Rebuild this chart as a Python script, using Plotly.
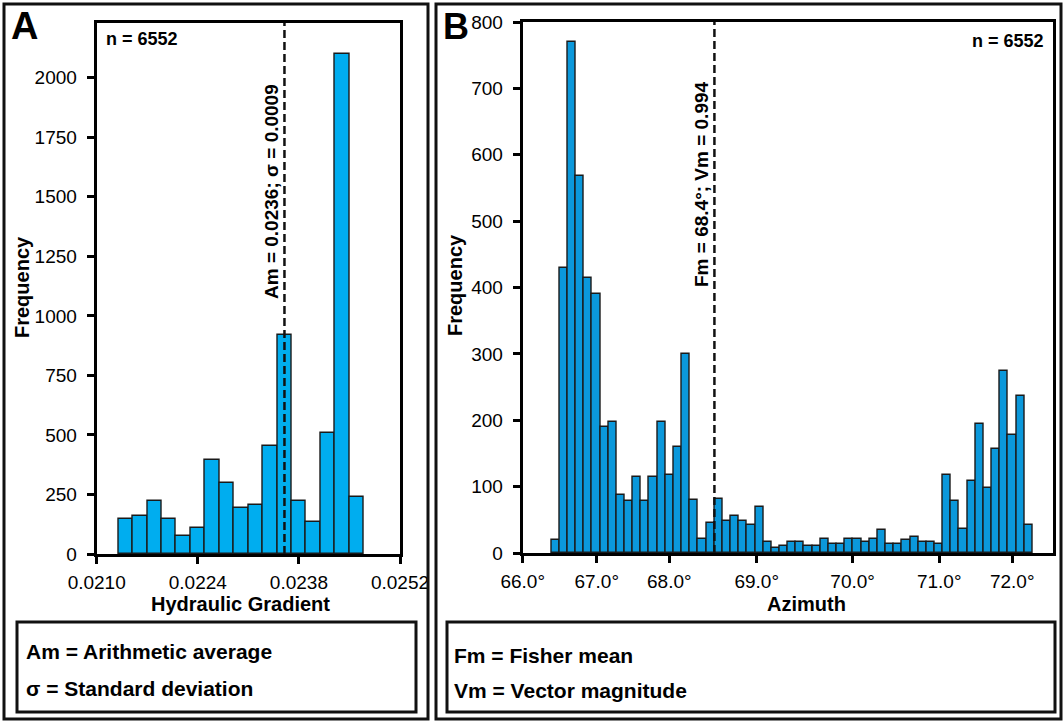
import plotly.graph_objects as go

W, H = 1064, 722

# ---------------- Data ----------------
# Panel A: hydraulic gradient histogram (bin centres, counts)
grad_bins = [0.0214, 0.0216, 0.0218, 0.0220, 0.0222, 0.0224, 0.0226, 0.0228, 0.0230,
             0.0232, 0.0234, 0.0236, 0.0238, 0.0240, 0.0242, 0.0244, 0.0246]
grad_counts = [148, 158, 224, 148, 76, 108, 395, 298, 192, 206, 452, 920, 224, 135, 508, 2100, 238]
grad_bin_width = 0.0002
grad_mean = 0.0236
grad_ticks = [0.0210, 0.0224, 0.0238, 0.0252]
grad_ticktext = ["0.0210", "0.0224", "0.0238", "0.0252"]
grad_yticks = [0, 250, 500, 750, 1000, 1250, 1500, 1750, 2000]

# Panel B: azimuth histogram (bin centres in degrees, counts)
az_bins = [66.4, 66.5, 66.6, 66.7, 66.8, 66.9, 67.0, 67.1, 67.2, 67.3,
           67.4, 67.5, 67.6, 67.7, 67.8, 67.9, 68.0, 68.1, 68.2, 68.3,
           68.4, 68.5, 68.6, 68.7, 68.8, 68.9, 69.0, 69.1, 69.2, 69.3,
           69.4, 69.5, 69.6, 69.7, 69.8, 69.9, 70.0, 70.1, 70.2, 70.3,
           70.4, 70.5, 70.6, 70.7, 70.8, 70.9, 71.0, 71.1, 71.2, 71.3,
           71.4, 71.5, 71.6, 71.7, 71.8, 71.9, 72.0, 72.1, 72.2]
az_counts = [20, 430, 770, 568, 415, 390, 190, 197, 88, 78,
             115, 78, 115, 198, 117, 160, 300, 80, 21, 45,
             82, 48, 55, 48, 42, 70, 17, 8, 11, 17,
             17, 11, 10, 21, 14, 14, 21, 21, 17, 21,
             34, 14, 14, 20, 24, 17, 17, 14, 117, 79,
             36, 109, 194, 98, 157, 274, 178, 237, 42]
az_bin_width = 0.1
az_mean_line = 68.35
# tick labels sit where the reference prints them
az_ticks = [66.0, 66.907, 67.797, 68.868, 70.044, 71.105, 72.0]
az_ticktext = ["66.0°", "67.0°", "68.0°", "69.0°", "70.0°", "71.0°", "72.0°"]
az_yticks = [0, 100, 200, 300, 400, 500, 600, 700, 800]

n_obs = 6552

# ---------------- Helpers ----------------
def X(px):
    return px / W

def Y(py):
    return 1 - py / H

FONT = "Liberation Sans, Arial, Helvetica, sans-serif"

fig = go.Figure()

fig.add_trace(go.Bar(
    x=grad_bins, y=grad_counts, width=grad_bin_width,
    marker=dict(color="#00adef", line=dict(color="#1a1a1a", width=1.4)),
    xaxis="x", yaxis="y", showlegend=False, hoverinfo="x+y"))

fig.add_trace(go.Bar(
    x=az_bins, y=az_counts, width=az_bin_width,
    marker=dict(color="#0b98db", line=dict(color="#1a1a1a", width=1.4)),
    xaxis="x2", yaxis="y2", showlegend=False, hoverinfo="x+y"))

axis_common = dict(
    showline=True, linecolor="black", linewidth=3, mirror=True,
    ticks="outside", ticklen=7, tickwidth=3, tickcolor="black",
    showgrid=False, zeroline=False, automargin=False,
    tickfont=dict(family=FONT, size=19, color="black"),
)

fig.update_layout(
    template="none",
    width=W, height=H,
    margin=dict(l=0, r=0, t=0, b=0, pad=0, autoexpand=False),
    paper_bgcolor="white", plot_bgcolor="white",
    bargap=0,
    xaxis=dict(domain=[X(96.7), X(400)], range=[0.0210, 0.0252],
               tickvals=grad_ticks, ticktext=grad_ticktext, anchor="y",
               ticklabelstandoff=2, **axis_common),
    yaxis=dict(domain=[Y(554), Y(23)], range=[0, 2230], tickvals=grad_yticks,
               anchor="x", ticklabelstandoff=6, **axis_common),
    xaxis2=dict(domain=[X(522.7), X(1053)], range=[66.0, 72.5],
                tickvals=az_ticks, ticktext=az_ticktext, anchor="y2",
                ticklabelstandoff=2, **axis_common),
    yaxis2=dict(domain=[Y(553), Y(22)], range=[0, 800], tickvals=az_yticks,
                anchor="x2", ticklabelstandoff=6, **axis_common),
)

shapes = []
# mean lines
shapes.append(dict(type="line", xref="x", yref="y domain", x0=grad_mean, x1=grad_mean,
                   y0=0, y1=1, line=dict(color="#111111", width=2.5, dash="8px,4px")))
shapes.append(dict(type="line", xref="x2", yref="y2 domain", x0=az_mean_line, x1=az_mean_line,
                   y0=0, y1=1, line=dict(color="#111111", width=2.5, dash="8px,4px")))
# outer panel frames
for x0, x1 in [(4, 428), (436, 1061)]:
    shapes.append(dict(type="rect", xref="paper", yref="paper",
                       x0=X(x0), x1=X(x1), y0=Y(719), y1=Y(4),
                       line=dict(color="#111111", width=3), fillcolor="rgba(0,0,0,0)"))
# legend boxes
for x0, x1 in [(17, 416), (447, 1055)]:
    shapes.append(dict(type="rect", xref="paper", yref="paper",
                       x0=X(x0), x1=X(x1), y0=Y(712), y1=Y(622),
                       line=dict(color="#111111", width=3), fillcolor="rgba(0,0,0,0)"))
fig.update_layout(shapes=shapes)

ann = []
def text(px, py, s, size, xanchor="center", yanchor="middle", angle=0):
    ann.append(dict(x=X(px), y=Y(py), xref="paper", yref="paper", text=s,
                    showarrow=False, xanchor=xanchor, yanchor=yanchor, textangle=angle,
                    font=dict(family=FONT, size=size, color="black")))

# panel letters
text(9, 26, "<b>A</b>", 38, xanchor="left")
text(441, 27, "<b>B</b>", 36, xanchor="left")
# n labels
text(104, 39, f"<b>n = {n_obs}</b>", 18, xanchor="left")
text(1046, 41, f"<b>n = {n_obs}</b>", 18, xanchor="right")
# axis titles
text(22, 287, "<b>Frequency</b>", 20, angle=-90)
text(455, 285, "<b>Frequency</b>", 20, angle=-90)
text(240, 604, "<b>Hydraulic Gradient</b>", 20)
text(806, 604, "<b>Azimuth</b>", 20)
# mean annotations
text(271, 192, "<b>Am = 0.0236; σ = 0.0009</b>", 19, angle=-90)
text(701, 184, "<b>Fm = 68.4°; Vm = 0.994</b>", 19, angle=-90)
# legend texts
text(24, 651, "<b>Am = Arithmetic average</b>", 21, xanchor="left")
text(24, 688, "<b>σ = Standard deviation</b>", 21, xanchor="left")
text(452, 655, "<b>Fm = Fisher mean</b>", 21, xanchor="left")
text(452, 690, "<b>Vm = Vector magnitude</b>", 21, xanchor="left")
fig.update_layout(annotations=ann)

fig.write_html(
    "out.html",
    config={"displayModeBar": False},
    post_script="document.body.style.margin='0px';document.body.style.overflow='hidden';",
)
